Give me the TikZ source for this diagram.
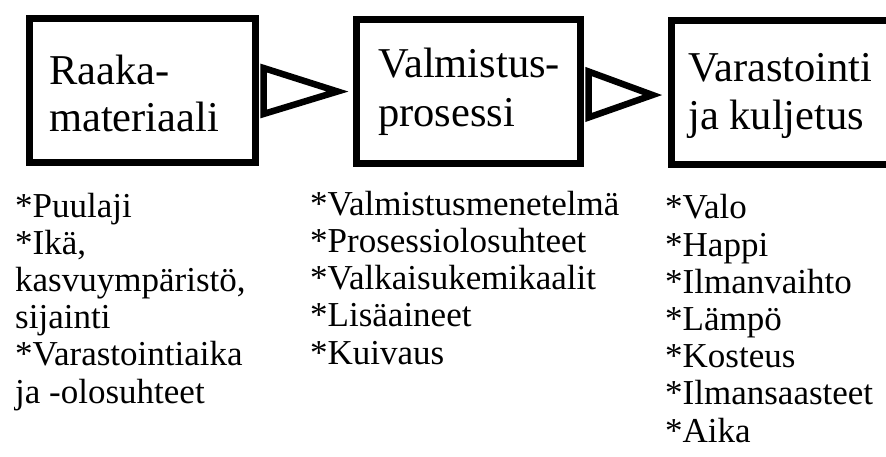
\documentclass[tikz,border=0pt]{standalone}
\usepackage{fontspec}
\setmainfont{Liberation Serif}
\usetikzlibrary{positioning}

\tikzset{
  stage/.style={draw, rectangle, line width=7pt, minimum height=144pt},
  stagetext/.style={anchor=base west, align=left, inner sep=0pt,
    font=\fontsize{42.5}{#1}\selectfont},
  link/.style={line width=6.5pt, line join=miter},
  factors/.style={anchor=base west, align=left, inner sep=0pt,
    font=\fontsize{35}{37.2}\selectfont}
}

\begin{document}
\begin{tikzpicture}[x=1pt,y=-1pt]

  \clip (0,0) rectangle (886,457);

  % the three stages
  \node[stage, minimum width=226pt] (raaka) at (142,91) {};
  \node[stage, minimum width=224pt] (valm) at (468,91.5) {};
  \node[stage, minimum width=234pt] (varasto) at (788,93) {};

  % (base = baseline of the last line)
  \node[stagetext=47pt] (raakat) at (49,132) {Raaka-\\materiaali};
  \node[stagetext=49pt] (valmt) at (378,127) {Valmistus-\\prosessi};
  \node[stagetext=48pt] (varastot) at (688,130) {Varastointi\\ja kuljetus};

  % open arrow heads between them
  \draw[link] ([xshift=5pt,yshift=23pt]raaka.east) -- ([xshift=-15pt]valm.west)
              -- ([xshift=5pt,yshift=-23pt]raaka.east) -- cycle;
  \draw[link] ([xshift=5pt,yshift=20pt]valm.east) -- ([xshift=-15pt,yshift=-2pt]varasto.west)
              -- ([xshift=5pt,yshift=-26pt]valm.east) -- cycle;

  % factors under each stage
  \node[factors] (raakaf) at (15,403) {*Puulaji\\*Ikä,\\kasvuympäristö,\\sijainti\\*Varastointiaika\\ja -olosuhteet};
  \node[factors] (valmf) at (310,364) {*Valmistusmenetelmä\\*Prosessiolosuhteet\\*Valkaisukemikaalit\\*Lisäaineet\\*Kuivaus};
  \node[factors] (varastof) at (665,442) {*Valo\\*Happi\\*Ilmanvaihto\\*Lämpö\\*Kosteus\\*Ilmansaasteet\\*Aika};

\end{tikzpicture}
\end{document}
